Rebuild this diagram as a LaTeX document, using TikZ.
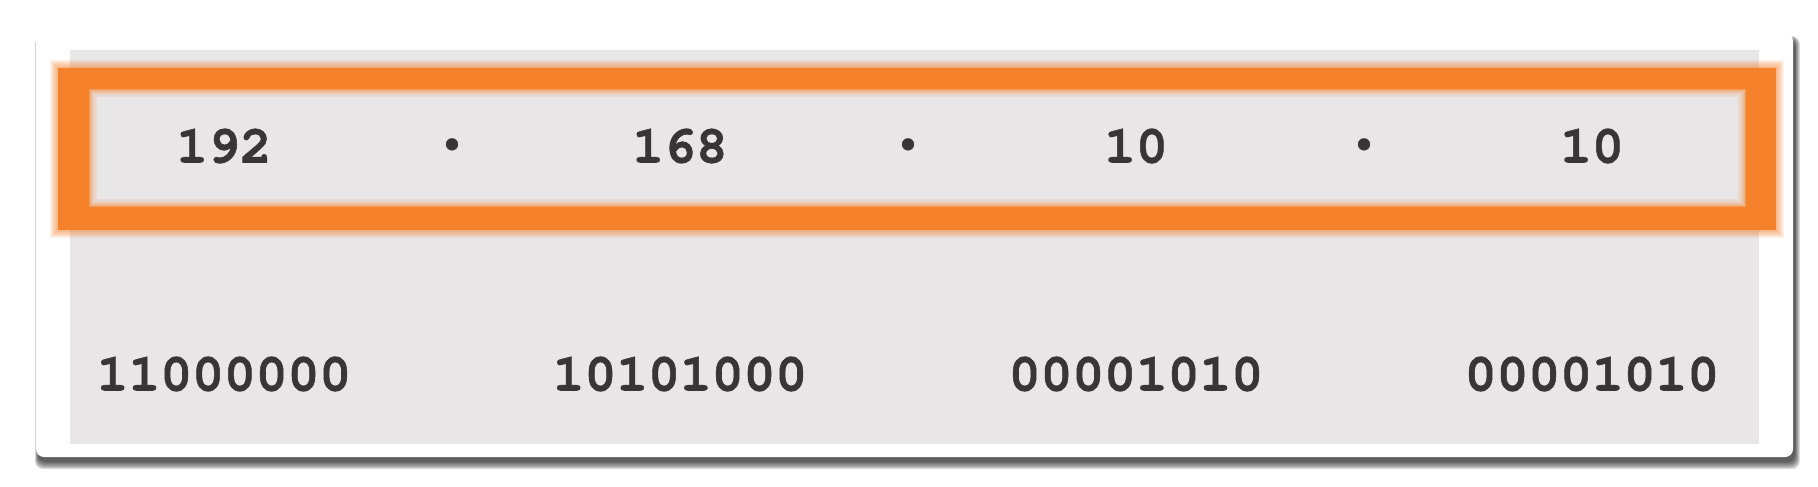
\documentclass[tikz,border=0pt]{standalone}
\usepackage{fontspec}
\newfontfamily\ipmono{TeX Gyre Cursor}[BoldFeatures={FakeBold=1}]
\definecolor{ipOrange}{HTML}{F5822A}
\definecolor{ipGray}{HTML}{E8E6E7}
\definecolor{ipText}{HTML}{383536}
\tikzset{
  numtxt/.style={font=\ipmono\bfseries\fontsize{53}{53}\selectfont, text=ipText, inner sep=0pt, anchor=center},
  dottxt/.style={font=\ipmono\bfseries\fontsize{33}{33}\selectfont, text=ipText, inner sep=0pt, anchor=center},
}
\begin{document}
\begin{tikzpicture}[x=1pt,y=-1pt]
\useasboundingbox (0,0) rectangle (1818,487);
\fill[white] (0,0) rectangle (1818,487);
% card shadow
\foreach \i in {0,...,6}{
  \fill[black, opacity=0.13, rounded corners=8] (36+2-\i*0.5,33+6-\i*0.5) rectangle (1793+2+\i*0.8,457+5+\i*1.2);
}
% card
\fill[white, rounded corners=8] (36,33) rectangle (1793,457);
\node[draw=none, fill=ipGray, minimum width=1689pt, minimum height=394pt, inner sep=0pt] (panel) at (914.5,247) {};
% orange glow
\foreach \i in {1,...,8}{
  \fill[ipOrange, opacity=0.09] (58-\i,68-\i) rectangle (1776+\i,230+\i);
}
\fill[ipOrange] (58,68) rectangle (1776,230);
% inner blurred gray
\foreach \i in {-4,...,4}{
  \fill[ipGray, opacity=0.25] (93+\i,93+\i) rectangle (1742-\i,203-\i);
}
\fill[ipGray] (97,97) rectangle (1738,199);
% decimal row
\node[numtxt] (d1) at (224,146) {192};
\node[dottxt] (p1) at (452,145) {•};
\node[numtxt] (d2) at (680,146) {168};
\node[dottxt] (p2) at (908,145) {•};
\node[numtxt] (d3) at (1136,146) {10};
\node[dottxt] (p3) at (1364,145) {•};
\node[numtxt] (d4) at (1592,146) {10};
% binary row
\node[numtxt] (b1) at (224,374) {11000000};
\node[numtxt] (b2) at (680,374) {10101000};
\node[numtxt] (b3) at (1136,374) {00001010};
\node[numtxt] (b4) at (1592,374) {00001010};
\end{tikzpicture}
\end{document}
